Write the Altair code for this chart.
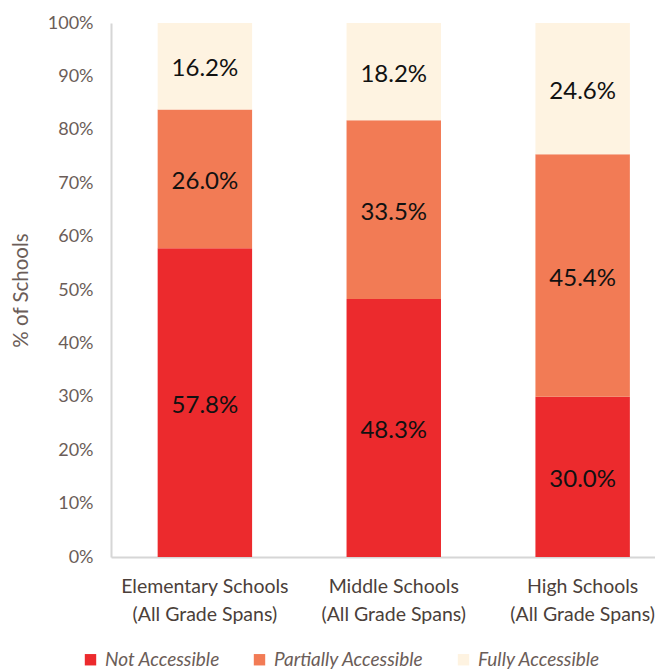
import altair as alt
import pandas as pd

schools = ["Elementary Schools\n(All Grade Spans)", "Middle Schools\n(All Grade Spans)", "High Schools\n(All Grade Spans)"]
levels = ["Not Accessible", "Partially Accessible", "Fully Accessible"]
not_accessible = [57.8, 48.3, 30.0]
partially_accessible = [26.0, 33.5, 45.4]
fully_accessible = [16.2, 18.2, 24.6]
colors = ["#EC2A2D", "#F27B55", "#FEF3E1"]

rows = []
for i, s in enumerate(schools):
    for j, (lvl, vals) in enumerate(zip(levels, [not_accessible, partially_accessible, fully_accessible])):
        rows.append({"school": s, "level": lvl, "order": j, "value": vals[i] / 100.0})
df = pd.DataFrame(rows)

FONT = "Lato"

base = alt.Chart(df).transform_stack(
    stack="value", groupby=["school"], as_=["y0", "y1"], sort=[alt.SortField("order", "ascending")]
).transform_calculate(mid="(datum.y0 + datum.y1) / 2")

x = alt.X("school:N", sort=schools, title=None,
          scale=alt.Scale(paddingInner=0.5, paddingOuter=0.19, align=0.65),
          axis=alt.Axis(labelAngle=0, labelExpr="split(datum.label, '\\n')", labelFontSize=19.5,
                        labelColor="#4b3f3a", labelFont=FONT, ticks=False, domainColor="#d6d6d6",
                        domainWidth=2, labelPadding=20, labelLineHeight=28))

bars = base.mark_bar().encode(
    x=x,
    y=alt.Y("y0:Q", scale=alt.Scale(domain=[0, 1]), title="% of Schools",
            axis=alt.Axis(values=[i / 10 for i in range(11)], format=".0%", grid=False, ticks=False,
                          labelFontSize=18, labelColor="#6b5d58", labelFont=FONT, labelPadding=18,
                          domainColor="#d6d6d6", domainWidth=2, titleFont=FONT, titleFontSize=20.5,
                          titleFontWeight="normal", titleColor="#6b5d58", titlePadding=16)),
    y2="y1:Q",
    color=alt.Color("level:N", sort=levels, scale=alt.Scale(domain=levels, range=colors),
                    legend=alt.Legend(title=None, orient="none", legendX=-30, legendY=627,
                                      direction="horizontal", padding=0,
                                      symbolType="square", symbolSize=130, symbolStrokeWidth=0,
                                      labelFontSize=19, labelFontStyle="italic", labelFont=FONT,
                                      labelColor="#6b5d58", columnPadding=30, labelOffset=5)),
)

labels = base.mark_text(fontSize=24, font=FONT, color="#111111", dy=3).encode(
    x=alt.X("school:N", sort=schools),
    y=alt.Y("mid:Q"),
    text=alt.Text("value:Q", format=".1%"),
)

chart = alt.layer(bars, labels).properties(
    width=544, height=534, padding={"left": 3, "top": 6, "right": 0, "bottom": 0}
).configure_view(stroke=None)

chart.save("out.html", embed_options={"renderer": "svg", "actions": False})
